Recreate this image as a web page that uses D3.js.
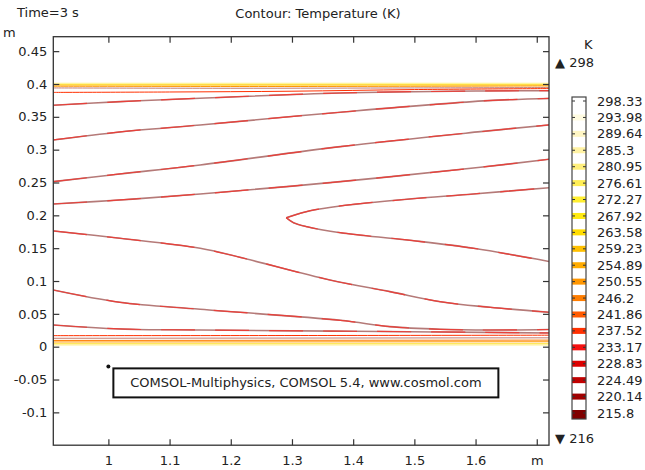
<!DOCTYPE html>
<html>
<head>
<meta charset="utf-8">
<script src="https://cdn.jsdelivr.net/npm/d3@7"></script>
<style>
  body { margin: 0; background: #fff; }
  text { font-family: "DejaVu Sans", sans-serif; font-size: 13px; fill: #222; }
</style>
</head>
<body>
<svg id="chart" width="645" height="470"></svg>
<script>
// axis ticks
const xTicks = [1, 1.1, 1.2, 1.3, 1.4, 1.5, 1.6, 1.7];
const xTickLabels = ["1", "1.1", "1.2", "1.3", "1.4", "1.5", "1.6", "m"];
const yTicks = [-0.1, -0.05, 0, 0.05, 0.1, 0.15, 0.2, 0.25, 0.3, 0.35, 0.4, 0.45];
const yTickLabels = ["-0.1", "-0.05", "0", "0.05", "0.1", "0.15", "0.2", "0.25", "0.3", "0.35", "0.4", "0.45"];

// contour levels (K) and their colours, top of the colour bar first
const levels = [298.33, 293.98, 289.64, 285.3, 280.95, 276.61, 272.27, 267.92, 263.58, 259.23,
                254.89, 250.55, 246.2, 241.86, 237.52, 233.17, 228.83, 224.49, 220.14, 215.8];
const levelColors = ["#ffffff", "#fffbe0", "#fff6c4", "#fff2a4", "#ffef7c", "#ffee55", "#ffee30", "#ffea10",
                     "#ffdc00", "#ffc000", "#ffab00", "#ff9600", "#ff7d00", "#ff5a00", "#ff3000",
                     "#f51010", "#dc0000", "#c00000", "#a00000", "#800000"];

// contour lines, [x (m), y (m)]
const lineA = [[0.91, 0.3676], [1.019, 0.3731], [1.15, 0.3783], [1.379, 0.3863], [1.62, 0.3894], [1.72, 0.3898]];
const lineB = [[0.91, 0.3148], [1.019, 0.327], [1.15, 0.3376], [1.379, 0.357], [1.62, 0.3746], [1.72, 0.378]];
const lineC = [[0.91, 0.2513], [1.019, 0.263], [1.15, 0.2767], [1.379, 0.3046], [1.608, 0.3274], [1.72, 0.3376]];
const lineD = [[0.91, 0.2173], [1.019, 0.2234], [1.15, 0.2325], [1.379, 0.2513], [1.608, 0.2732], [1.72, 0.2854]];
const noseUpper = [[1.2906, 0.1964], [1.3135, 0.2031], [1.3299, 0.2071], [1.379, 0.2143], [1.488, 0.2245], [1.5964, 0.2325], [1.72, 0.2421]];
const noseLower = [[1.2906, 0.1964], [1.3025, 0.1888], [1.3244, 0.1827], [1.379, 0.1736], [1.488, 0.1625], [1.597, 0.1498], [1.72, 0.1297]];
const lineG = [[0.91, 0.1762], [1.019, 0.1651], [1.15, 0.1498], [1.215, 0.1361], [1.362, 0.1016], [1.46, 0.0838], [1.542, 0.0685], [1.624, 0.06], [1.72, 0.0524]];
const lineH = [[0.91, 0.0863], [1.019, 0.0676], [1.15, 0.057], [1.379, 0.0402], [1.46, 0.0305], [1.542, 0.0265], [1.624, 0.0254], [1.72, 0.0262]];
const lineI = [[0.91, 0.033], [1.019, 0.027], [1.15, 0.0254], [1.4, 0.0235], [1.72, 0.0209]];

// thin bands along the hot walls
const topBands = [
  { level: 289.64, pts: [[0.91, 0.4015], [1.72, 0.4015]] },
  { level: 272.27, pts: [[0.91, 0.3998], [1.72, 0.3998]] },
  { level: 259.23, pts: [[0.91, 0.3984], [1.72, 0.3984]] },
  { level: 250.55, pts: [[0.91, 0.3966], [1.3, 0.3962], [1.72, 0.397]] },
  { level: 241.86, pts: [[0.91, 0.394], [1.2, 0.3935], [1.5, 0.394], [1.72, 0.3945]] },
  { level: 237.52, pts: [[0.91, 0.3872], [1.1, 0.3878], [1.3, 0.389], [1.5, 0.3915], [1.72, 0.393]] }
];
const bottomBands = [
  { level: 237.52, pts: [[0.91, 0.0168], [1.3, 0.017], [1.72, 0.0175]] },
  { level: 241.86, pts: [[0.91, 0.0128], [1.72, 0.0135]] },
  { level: 246.2, pts: [[0.91, 0.0095], [1.72, 0.01]] },
  { level: 250.55, pts: [[0.91, 0.0072], [1.72, 0.0075]] },
  { level: 263.58, pts: [[0.91, 0.0043], [1.72, 0.0043]] },
  { level: 285.3, pts: [[0.91, 0.0024], [1.72, 0.0024]] }
];
const interiorLines = [lineA, lineB, lineC, lineD, noseUpper, noseLower, lineG, lineH, lineI];

const svg = d3.select("#chart");

const x = d3.scaleLinear().domain([0.91, 1.72]).range([53.3, 549]);
const y = d3.scaleLinear().domain([-0.15, 0.472]).range([445.2, 36.7]);
const colorOf = d3.scaleOrdinal().domain(levels).range(levelColors);

const line = d3.line().x(d => x(d[0])).y(d => y(d[1])).curve(d3.curveCatmullRom.alpha(0.5));

svg.append("defs").append("clipPath").attr("id", "plotclip")
  .append("rect").attr("x", x(0.91)).attr("y", y(0.472))
  .attr("width", x(1.72) - x(0.91)).attr("height", y(-0.15) - y(0.472));

const plot = svg.append("g").attr("clip-path", "url(#plotclip)");

// wall bands
plot.selectAll(".band")
  .data(topBands.concat(bottomBands))
  .join("path")
  .attr("class", "band")
  .attr("d", d => line(d.pts))
  .attr("fill", "none")
  .attr("stroke", d => d.level === 241.86 ? "#c07a70" : colorOf(d.level))
  .attr("stroke-width", 1);

// interior contours: brownish base with red dashes on top
plot.selectAll(".base")
  .data(interiorLines)
  .join("path")
  .attr("class", "base")
  .attr("d", line)
  .attr("fill", "none")
  .attr("stroke", "#b57a78")
  .attr("stroke-width", 1.6);

plot.selectAll(".red")
  .data(interiorLines)
  .join("path")
  .attr("class", "red")
  .attr("d", line)
  .attr("fill", "none")
  .attr("stroke", "#e8403a")
  .attr("stroke-width", 1.2)
  .attr("stroke-dasharray", "34 20");

// axes, ticks pointing inwards
function styleAxis(g) {
  g.select(".domain").remove();
  g.selectAll(".tick line").attr("stroke", "#333").attr("stroke-width", 1.2);
  g.selectAll(".tick text").attr("fill", "#222").style("font-size", "13px").attr("font-family", "DejaVu Sans");
}

svg.append("g").attr("transform", `translate(${x(0.91)},0)`)
  .call(d3.axisLeft(y).tickValues(yTicks).tickSize(-6).tickPadding(6).tickFormat((d, i) => yTickLabels[i]))
  .call(styleAxis);
svg.append("g").attr("transform", `translate(${x(1.72)},0)`)
  .call(d3.axisRight(y).tickValues(yTicks).tickSize(-6).tickFormat(""))
  .call(styleAxis);
svg.append("g").attr("transform", `translate(0,${y(-0.15)})`)
  .call(d3.axisBottom(x).tickValues(xTicks).tickSize(-6).tickPadding(11).tickFormat((d, i) => xTickLabels[i]))
  .call(styleAxis);
svg.append("g").attr("transform", `translate(0,${y(0.472)})`)
  .call(d3.axisTop(x).tickValues(xTicks).tickSize(-6).tickFormat(""))
  .call(styleAxis);

svg.append("rect")
  .attr("x", x(0.91)).attr("y", y(0.472))
  .attr("width", x(1.72) - x(0.91)).attr("height", y(-0.15) - y(0.472))
  .attr("fill", "none").attr("stroke", "#333").attr("stroke-width", 1.3);

// titles
svg.append("text").attr("x", 17).attr("y", 17).text("Time=3 s");
svg.append("text").attr("x", 318).attr("y", 18).attr("text-anchor", "middle").text("Contour: Temperature (K)");
svg.append("text").attr("x", 3).attr("y", 37).text("m");

// annotation anchored at (1, -0.03)
const ax = x(1), ay = y(-0.03);
svg.append("circle").attr("cx", ax).attr("cy", ay).attr("r", 2).attr("fill", "#111");
svg.append("rect").attr("x", ax + 5).attr("y", ay + 2).attr("width", 385).attr("height", 29)
  .attr("fill", "#fff").attr("stroke", "#111").attr("stroke-width", 2);
svg.append("text").attr("x", ax + 5 + 192.5).attr("y", ay + 21).attr("text-anchor", "middle")
  .text("COMSOL-Multiphysics, COMSOL 5.4, www.cosmol.com");

// colour bar
const cy = d3.scaleLinear().domain([298.33, 215.8]).range([101, 413]);
const barX = 572, barW = 14;
const barTop = cy(298.33) - 4, barBot = cy(215.8) + 6;
const cb = svg.append("g");
cb.append("text").attr("x", 584).attr("y", 49).text("K");
cb.append("text").attr("x", 555).attr("y", 67).text("\u25B2 298");
cb.append("text").attr("x", 555).attr("y", 443).text("\u25BC 216");
cb.append("rect").attr("x", barX).attr("y", barTop).attr("width", barW).attr("height", barBot - barTop)
  .attr("fill", "#fff");
cb.selectAll(".stripe")
  .data(levels)
  .join("rect")
  .attr("class", "stripe")
  .attr("x", barX)
  .attr("y", d => Math.max(barTop, cy(d) - 3))
  .attr("width", barW)
  .attr("height", d => Math.min(barBot, cy(d) + 3 + (d === 215.8 ? 3 : 0)) - Math.max(barTop, cy(d) - 3))
  .attr("fill", d => colorOf(d));
cb.selectAll(".ctick")
  .data(levels)
  .join("path")
  .attr("class", "ctick")
  .attr("d", d => `M${barX},${cy(d)}h3M${barX + barW},${cy(d)}h-3`)
  .attr("stroke", "#333").attr("stroke-width", 1);
cb.append("rect").attr("x", barX).attr("y", barTop).attr("width", barW).attr("height", barBot - barTop)
  .attr("fill", "none").attr("stroke", "#444").attr("stroke-width", 1.2);
cb.selectAll(".clabel")
  .data(levels)
  .join("text")
  .attr("class", "clabel")
  .attr("x", 597)
  .attr("y", d => cy(d))
  .attr("dy", "0.35em")
  .text(d => String(d));
</script>
</body>
</html>
